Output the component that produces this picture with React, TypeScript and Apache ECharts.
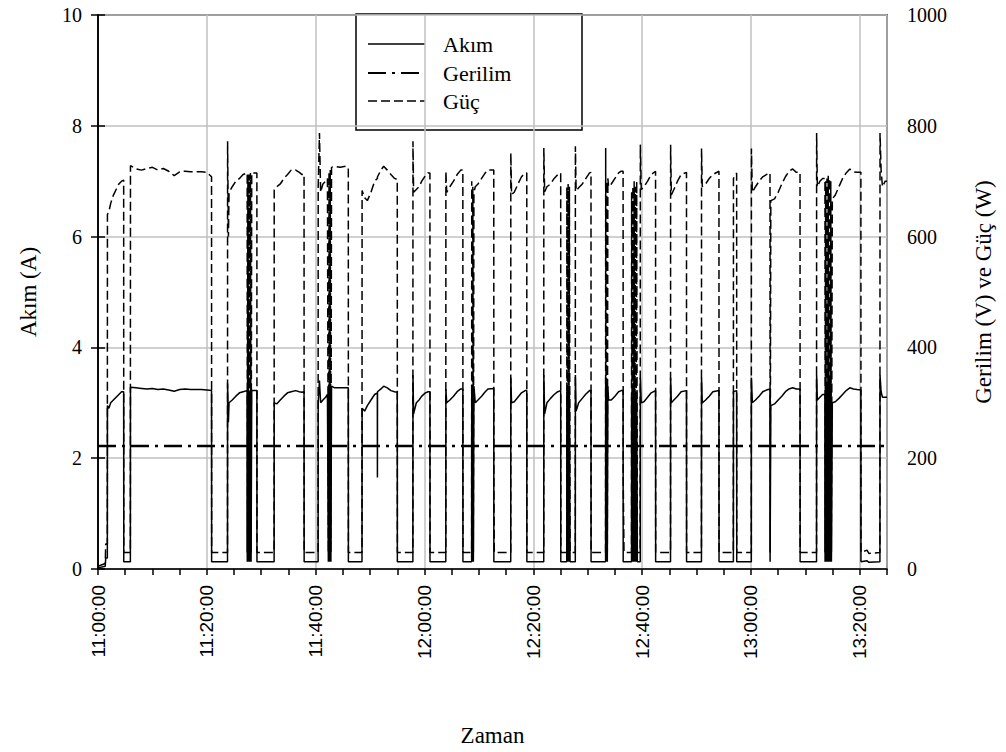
import React, { useEffect, useRef } from "react";
import * as echarts from "echarts";

// Zaman (time), Akım (A), Güç (W)
const zaman = [
  "11:00:00","11:01:20","11:01:25","11:01:43",
  "11:01:44","11:02:00","11:02:20","11:02:50","11:03:20","11:03:50","11:04:20","11:04:43",
  "11:04:44","11:05:57",
  "11:05:58","11:07:00","11:08:00","11:09:00","11:10:00","11:11:00","11:12:00","11:13:00","11:14:00","11:15:00","11:16:00","11:17:00","11:18:00","11:19:00","11:20:00","11:20:52",
  "11:20:53","11:23:48",
  "11:23:49","11:23:58","11:24:05","11:24:40","11:25:20","11:26:00","11:26:40","11:27:25",
  "11:27:26","11:27:33","11:27:40","11:27:47","11:27:54","11:28:01","11:28:08","11:28:15",
  "11:29:12",
  "11:29:13","11:32:22",
  "11:32:23","11:32:50","11:33:30","11:34:10","11:34:50","11:35:30","11:36:20","11:37:00","11:37:30","11:37:52",
  "11:37:53","11:40:27",
  "11:40:28","11:40:42","11:40:55","11:41:20","11:41:50","11:42:10","11:42:20","11:42:27","11:42:34","11:42:41","11:42:48","11:42:55","11:43:30","11:44:30","11:45:30","11:46:00",
  "11:46:01","11:48:31",
  "11:48:32","11:49:00","11:49:30","11:50:10","11:50:50","11:51:20","11:51:21","11:51:22","11:52:00","11:52:30","11:53:10","11:53:50","11:54:30","11:55:00",
  "11:55:01","11:57:52",
  "11:57:53","11:58:00","11:58:30","11:59:00","11:59:30","12:00:10","12:00:40","12:01:00",
  "12:01:01","12:03:55",
  "12:03:56","12:04:05","12:04:40","12:05:20","12:06:00","12:06:40","12:07:03",
  "12:07:04","12:08:40",
  "12:08:41","12:08:47","12:08:53","12:08:59","12:09:05",
  "12:09:20","12:09:50","12:10:30","12:11:10","12:11:40","12:12:44",
  "12:12:45","12:12:50","12:15:51",
  "12:15:52","12:16:00","12:16:30","12:17:10","12:17:50","12:18:30","12:18:48",
  "12:18:49","12:21:55",
  "12:21:56","12:22:05","12:22:30","12:23:10","12:23:50","12:24:30","12:25:02",
  "12:25:03","12:26:09","12:26:10","12:26:17","12:26:24","12:26:31","12:26:38","12:26:45","12:27:43",
  "12:27:44","12:27:52","12:28:20","12:29:00","12:29:40","12:30:20","12:30:36",
  "12:30:37","12:33:17",
  "12:33:18","12:33:24","12:33:30","12:33:36","12:33:42","12:33:50","12:34:20","12:35:00","12:35:40","12:36:10","12:36:30",
  "12:36:31","12:36:40","12:38:03",
  "12:38:04","12:38:11","12:38:18","12:38:25","12:38:32","12:38:39","12:38:46","12:38:53","12:39:00","12:39:07","12:39:39",
  "12:39:40","12:39:50","12:40:20","12:41:00","12:41:40","12:42:28",
  "12:42:29","12:45:13",
  "12:45:14","12:45:22","12:45:50","12:46:30","12:47:10","12:48:09",
  "12:48:10","12:50:54",
  "12:50:55","12:51:03","12:51:40","12:52:20","12:53:00","12:54:07",
  "12:54:08","12:56:46",
  "12:56:47","12:57:22",
  "12:57:23","13:00:04",
  "13:00:05","13:00:15","13:00:50","13:01:30","13:02:10","13:02:50","13:03:30","13:03:31","13:03:38","13:03:39","13:04:20","13:05:00","13:05:40","13:06:20","13:07:00","13:07:40","13:08:20","13:09:01",
  "13:09:02","13:12:03",
  "13:12:04","13:12:12","13:12:40","13:13:10","13:13:36",
  "13:13:37","13:13:44","13:13:51","13:13:58","13:14:05","13:14:12","13:14:19","13:14:26","13:14:33","13:14:40","13:14:47","13:14:57",
  "13:15:30","13:16:10","13:16:50","13:17:30","13:18:10","13:18:50","13:19:30","13:20:12",
  "13:20:13","13:21:20","13:21:40","13:23:42",
  "13:23:43","13:23:55","13:24:10","13:24:40","13:25:00"
];

const akim = [
  0.02,0.05,0.2,0.2,
  2.95,2.9,3.0,3.05,3.1,3.15,3.2,3.2,
  0.13,0.13,
  3.28,3.27,3.26,3.25,3.26,3.24,3.25,3.23,3.21,3.24,3.25,3.24,3.24,3.24,3.23,3.22,
  0.13,0.13,
  3.35,2.65,3.0,3.05,3.12,3.18,3.2,3.22,
  0.13,3.2,0.13,3.2,0.13,3.22,0.13,3.22,
  3.22,
  0.13,0.13,
  3.0,2.98,3.05,3.12,3.18,3.2,3.22,3.2,3.19,3.2,
  0.13,0.13,
  3.0,3.4,3.0,3.05,3.1,3.15,0.13,3.3,0.13,3.35,0.13,3.3,3.27,3.27,3.27,3.27,
  0.13,0.13,
  2.9,2.85,2.95,3.05,3.15,3.18,1.65,3.2,3.25,3.3,3.27,3.22,3.2,3.19,
  0.13,0.13,
  3.5,2.8,3.0,3.05,3.12,3.18,3.2,3.2,
  0.13,0.13,
  3.25,3.0,3.05,3.12,3.2,3.25,3.25,
  0.13,0.13,
  3.2,0.13,3.25,0.13,3.3,
  3.0,3.05,3.12,3.2,3.25,3.26,
  0.13,0.13,0.13,
  3.45,3.0,3.02,3.1,3.18,3.22,3.22,
  0.13,0.13,
  3.5,2.8,3.0,3.08,3.15,3.2,3.22,
  0.13,0.13,3.2,0.13,3.25,0.13,3.2,0.13,0.13,
  3.5,2.85,3.0,3.08,3.16,3.22,3.22,
  0.13,0.13,
  3.45,0.13,3.35,0.13,3.3,3.05,3.05,3.12,3.2,3.22,3.22,
  0.13,0.13,0.13,
  3.1,0.13,3.2,0.13,3.2,0.13,3.15,0.13,3.2,0.13,0.13,
  3.45,3.0,3.02,3.1,3.18,3.22,
  0.13,0.13,
  3.45,3.0,3.05,3.12,3.2,3.22,
  0.13,0.13,
  3.45,3.0,3.05,3.12,3.2,3.22,
  0.13,0.13,
  3.2,3.22,
  0.13,0.13,
  3.45,3.0,3.05,3.12,3.2,3.23,3.25,0.13,0.13,2.95,2.98,3.05,3.12,3.2,3.25,3.27,3.25,3.25,
  0.13,0.13,
  3.5,3.05,3.1,3.15,3.15,
  0.13,3.3,0.13,3.35,0.13,3.4,0.13,3.35,0.13,3.3,0.13,3.0,
  3.02,3.08,3.15,3.22,3.27,3.25,3.24,3.23,
  0.13,0.15,0.12,0.13,
  3.5,3.2,3.1,3.1,3.1
];

const guc = [
  5,10,45,45,
  640,645,660,675,685,695,700,702,
  30,30,
  728,722,720,723,725,720,723,718,710,717,718,717,717,717,716,708,
  30,30,
  772,600,680,690,700,705,712,715,
  30,712,30,712,30,715,30,715,
  715,
  30,30,
  684,690,695,705,712,720,720,716,712,713,
  30,30,
  690,787,680,695,700,705,30,715,30,720,30,725,727,725,727,725,
  30,30,
  683,670,665,680,700,705,705,708,720,727,720,712,705,703,
  30,30,
  772,680,685,690,700,710,715,715,
  30,30,
  718,680,690,700,712,720,720,
  30,30,
  700,30,690,30,680,
  690,695,705,715,720,720,
  165,30,30,
  751,676,680,695,708,715,715,
  30,30,
  760,681,690,695,705,712,715,
  30,30,690,30,695,30,690,30,30,
  763,683,688,695,705,715,716,
  30,30,
  760,30,700,30,705,690,695,705,715,718,718,
  165,30,30,
  680,30,690,30,700,30,690,30,700,30,30,
  766,685,690,700,712,718,
  30,30,
  766,675,685,700,712,716,
  30,30,
  759,690,695,705,712,718,
  30,30,
  705,715,
  30,30,
  759,680,690,700,708,712,715,30,30,665,668,680,695,708,718,722,716,716,
  30,30,
  787,690,700,705,705,
  30,700,30,705,30,710,30,705,30,700,30,668,
  675,690,705,715,722,717,716,716,
  30,34,28,30,
  787,720,690,700,700
];

// Gerilim (V) — flat at about 222 V through the whole record
const gerilimZaman = ["11:00:00", "11:40:00", "12:20:00", "13:00:00", "13:25:00"];
const gerilim = [222, 222, 222, 222, 222];

const xEtiketler = ["11:00:00", "11:20:00", "11:40:00", "12:00:00", "12:20:00", "12:40:00", "13:00:00", "13:20:00"];

function toMin(s: string): number {
  const [h, m, sec] = s.split(":").map(Number);
  return (h - 11) * 60 + m + sec / 60;
}

export default function App() {
  const ref = useRef<HTMLDivElement>(null);
  useEffect(() => {
    document.body.style.margin = "0";
    if (!ref.current) return;
    const chart = echarts.init(ref.current, undefined, { renderer: "svg" });
    const serif = '"Liberation Serif", "Times New Roman", serif';
    const sans = '"Liberation Sans", Arial, sans-serif';
    const akimData = zaman.map((t, i) => [toMin(t), akim[i]]);
    const gucData = zaman.map((t, i) => [toMin(t), guc[i]]);
    const gerilimData = gerilimZaman.map((t, i) => [toMin(t), gerilim[i]]);
    const legendY = [44, 73, 101];
    const option: any = {
      animation: false,
      backgroundColor: "#fff",
      grid: {
        left: 98, right: 119, top: 15, bottom: 182,
        show: true, borderColor: "#000", borderWidth: 1.5, backgroundColor: "transparent",
      },
      xAxis: [
        {
          type: "value", min: 0, max: 145, interval: 5, position: "bottom",
          axisLine: { show: true, lineStyle: { color: "#000", width: 1.5 } },
          axisTick: { show: true, inside: false, length: 6, lineStyle: { color: "#000", width: 1.5 } },
          axisLabel: { show: false },
          splitLine: { show: false },
        },
        {
          type: "value", min: 0, max: 145, interval: 20, position: "bottom",
          axisLine: { show: false },
          axisTick: { show: false },
          splitLine: { show: true, lineStyle: { color: "#c0c0c0", width: 1.5 } },
          axisLabel: {
            show: true, rotate: 90, margin: 16, showMaxLabel: false,
            fontFamily: sans, fontSize: 19, color: "#000",
            formatter: (v: number) => xEtiketler[Math.round(v / 20)] ?? "",
          },
          name: "Zaman", nameLocation: "middle", nameGap: 155,
          nameTextStyle: { fontFamily: serif, fontSize: 23, color: "#000" },
        },
      ],
      yAxis: [
        {
          type: "value", min: 0, max: 10, interval: 2, position: "left",
          axisLine: { show: true, lineStyle: { color: "#000", width: 1.5 } },
          axisTick: { show: true, inside: false, length: 7, lineStyle: { color: "#000", width: 1.5 } },
          axisLabel: { fontFamily: serif, fontSize: 20, color: "#000", margin: 16 },
          splitLine: { show: true, lineStyle: { color: "#c0c0c0", width: 1.5 } },
          name: "Akım (A)", nameLocation: "middle", nameGap: 58,
          nameTextStyle: { fontFamily: serif, fontSize: 23, color: "#000" },
        },
        {
          type: "value", min: 0, max: 1000, interval: 200, position: "right",
          axisLine: { show: true, lineStyle: { color: "#000", width: 1.5 } },
          axisTick: { show: true, inside: false, length: 7, lineStyle: { color: "#000", width: 1.5 } },
          axisLabel: { fontFamily: serif, fontSize: 20, color: "#000", margin: 20, formatter: (v: number) => String(v) },
          splitLine: { show: false },
          name: "Gerilim (V) ve Güç (W)", nameLocation: "middle", nameGap: 85,
          nameTextStyle: { fontFamily: serif, fontSize: 23, color: "#000" },
        },
      ],
      series: [
        {
          name: "Akım", type: "line", xAxisIndex: 0, yAxisIndex: 0, data: akimData,
          showSymbol: false, symbol: "none", silent: true,
          lineStyle: { color: "#000", width: 1.5, type: "solid" },
        },
        {
          name: "Gerilim", type: "line", xAxisIndex: 0, yAxisIndex: 1, data: gerilimData,
          showSymbol: false, symbol: "none", silent: true,
          lineStyle: { color: "#000", width: 2.5, type: [18, 6, 3, 6] },
        },
        {
          name: "Güç", type: "line", xAxisIndex: 0, yAxisIndex: 1, data: gucData,
          showSymbol: false, symbol: "none", silent: true,
          lineStyle: { color: "#000", width: 1.5, type: [9, 4] },
        },
      ],
      graphic: [
        {
          type: "group", z: 100,
          children: [
            { type: "rect", shape: { x: 356, y: 14, width: 226, height: 116 }, style: { fill: "#fff", stroke: "#000", lineWidth: 1.5 } },
            { type: "line", shape: { x1: 368, y1: legendY[0], x2: 425, y2: legendY[0] }, style: { stroke: "#000", lineWidth: 1.5 } },
            { type: "line", shape: { x1: 368, y1: legendY[1], x2: 425, y2: legendY[1] }, style: { stroke: "#000", lineWidth: 2, lineDash: [18, 6, 3, 6] } },
            { type: "line", shape: { x1: 368, y1: legendY[2], x2: 425, y2: legendY[2] }, style: { stroke: "#000", lineWidth: 1.5, lineDash: [9, 4] } },
            { type: "text", x: 443, y: legendY[0], style: { text: "Akım", fill: "#000", font: `22px ${serif}`, verticalAlign: "middle", textVerticalAlign: "middle" } },
            { type: "text", x: 443, y: legendY[1], style: { text: "Gerilim", fill: "#000", font: `22px ${serif}`, verticalAlign: "middle", textVerticalAlign: "middle" } },
            { type: "text", x: 443, y: legendY[2], style: { text: "Güç", fill: "#000", font: `22px ${serif}`, verticalAlign: "middle", textVerticalAlign: "middle" } },
          ],
        },
      ],
    };
    chart.setOption(option);
    return () => chart.dispose();
  }, []);
  return <div ref={ref} style={{ position: "absolute", left: 0, top: 0, width: 1006, height: 752 }} />;
}
